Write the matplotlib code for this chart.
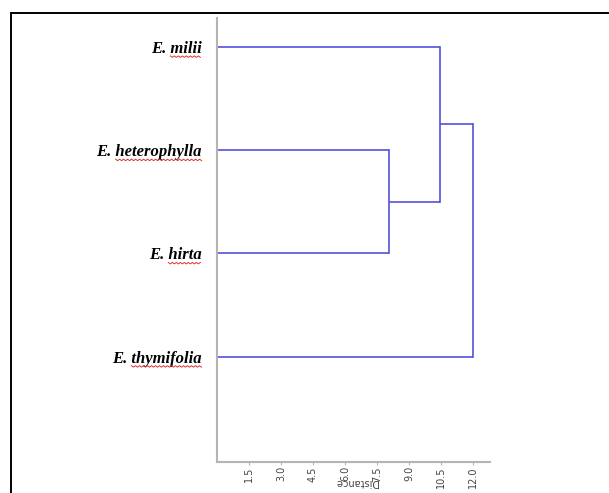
import numpy as np
import matplotlib.pyplot as plt
from matplotlib.patches import Rectangle

# datos del dendrograma
especies = ['E. milii', 'E. heterophylla', 'E. hirta', 'E. thymifolia']
# uniones: (nodo a, nodo b, distancia); nodos nuevos se numeran 4, 5, 6
uniones = [(1, 2, 8.05), (0, 4, 10.45), (5, 3, 12.0)]
ticks_x = [1.5, 3.0, 4.5, 6.0, 7.5, 9.0, 10.5, 12.0]

W, H = 609, 493
fig = plt.figure(figsize=(W / 100, H / 100), dpi=100)
ax = fig.add_axes([217 / W, 1 - 462 / H, (490 - 217) / W, (462 - 18) / H])

azul = '#5252dc'
gris = '#b4b4b4'

# posiciones y alturas de cada nodo
pos_y = {i: i + 1 for i in range(len(especies))}
alt = {i: 0.0 for i in range(len(especies))}
nuevo = len(especies)
for a, b, d in uniones:
    ax.plot([alt[a], d], [pos_y[a], pos_y[a]], color=azul, lw=1.2, solid_capstyle='butt')
    ax.plot([alt[b], d], [pos_y[b], pos_y[b]], color=azul, lw=1.2, solid_capstyle='butt')
    ax.plot([d, d], [pos_y[a], pos_y[b]], color=azul, lw=1.2)
    pos_y[nuevo] = (pos_y[a] + pos_y[b]) / 2
    alt[nuevo] = d
    nuevo += 1

ax.set_xlim(0, (490 - 217) / 21.33)
ax.set_ylim(5.02, 0.72)
ax.spines['top'].set_visible(False)
ax.spines['right'].set_visible(False)
for s in ['left', 'bottom']:
    ax.spines[s].set_color(gris)
    ax.spines[s].set_linewidth(1.5)

ax.set_xticks(ticks_x)
ax.set_xticklabels(['%.1f' % t for t in ticks_x], rotation=90, fontsize=7,
                   color='#444444', family='DejaVu Sans')
ax.tick_params(axis='x', length=2, width=0.8, color=gris, pad=1)

ax.set_yticks(list(range(1, len(especies) + 1)))
ax.set_yticklabels(especies, family='Liberation Serif', fontstyle='italic',
                   fontweight='bold', fontsize=12)
ax.tick_params(axis='y', length=0, pad=11)

ax.text(0.51, -0.045, 'Distance', transform=ax.transAxes, rotation=180,
        fontsize=7, color='#444444', ha='center', va='center')

# marco del documento
fig.patches.append(Rectangle((11 / W, -0.1), 1.2, 1 - 13 / H + 0.1,
                             transform=fig.transFigure, fill=False,
                             edgecolor='black', lw=1.4))

# subrayado ondulado rojo bajo el epíteto
fig.canvas.draw()
r = fig.canvas.get_renderer()
for lab in ax.get_yticklabels():
    bb = lab.get_window_extent(r)
    tmp = fig.text(0, 0, 'E. ', family='Liberation Serif', fontstyle='italic',
                   fontweight='bold', fontsize=12)
    wpre = tmp.get_window_extent(r).width
    tmp.remove()
    x0 = bb.x0 + wpre
    x1 = bb.x1
    xs = np.arange(x0, x1, 2.0)
    ys = bb.y0 + 1.0 + np.where(np.arange(len(xs)) % 2 == 0, 0, -1.5)
    fig.add_artist(plt.Line2D(xs / W, ys / H, color='#e03030', lw=0.7,
                              transform=fig.transFigure))

fig.savefig('out.png', dpi=100)
